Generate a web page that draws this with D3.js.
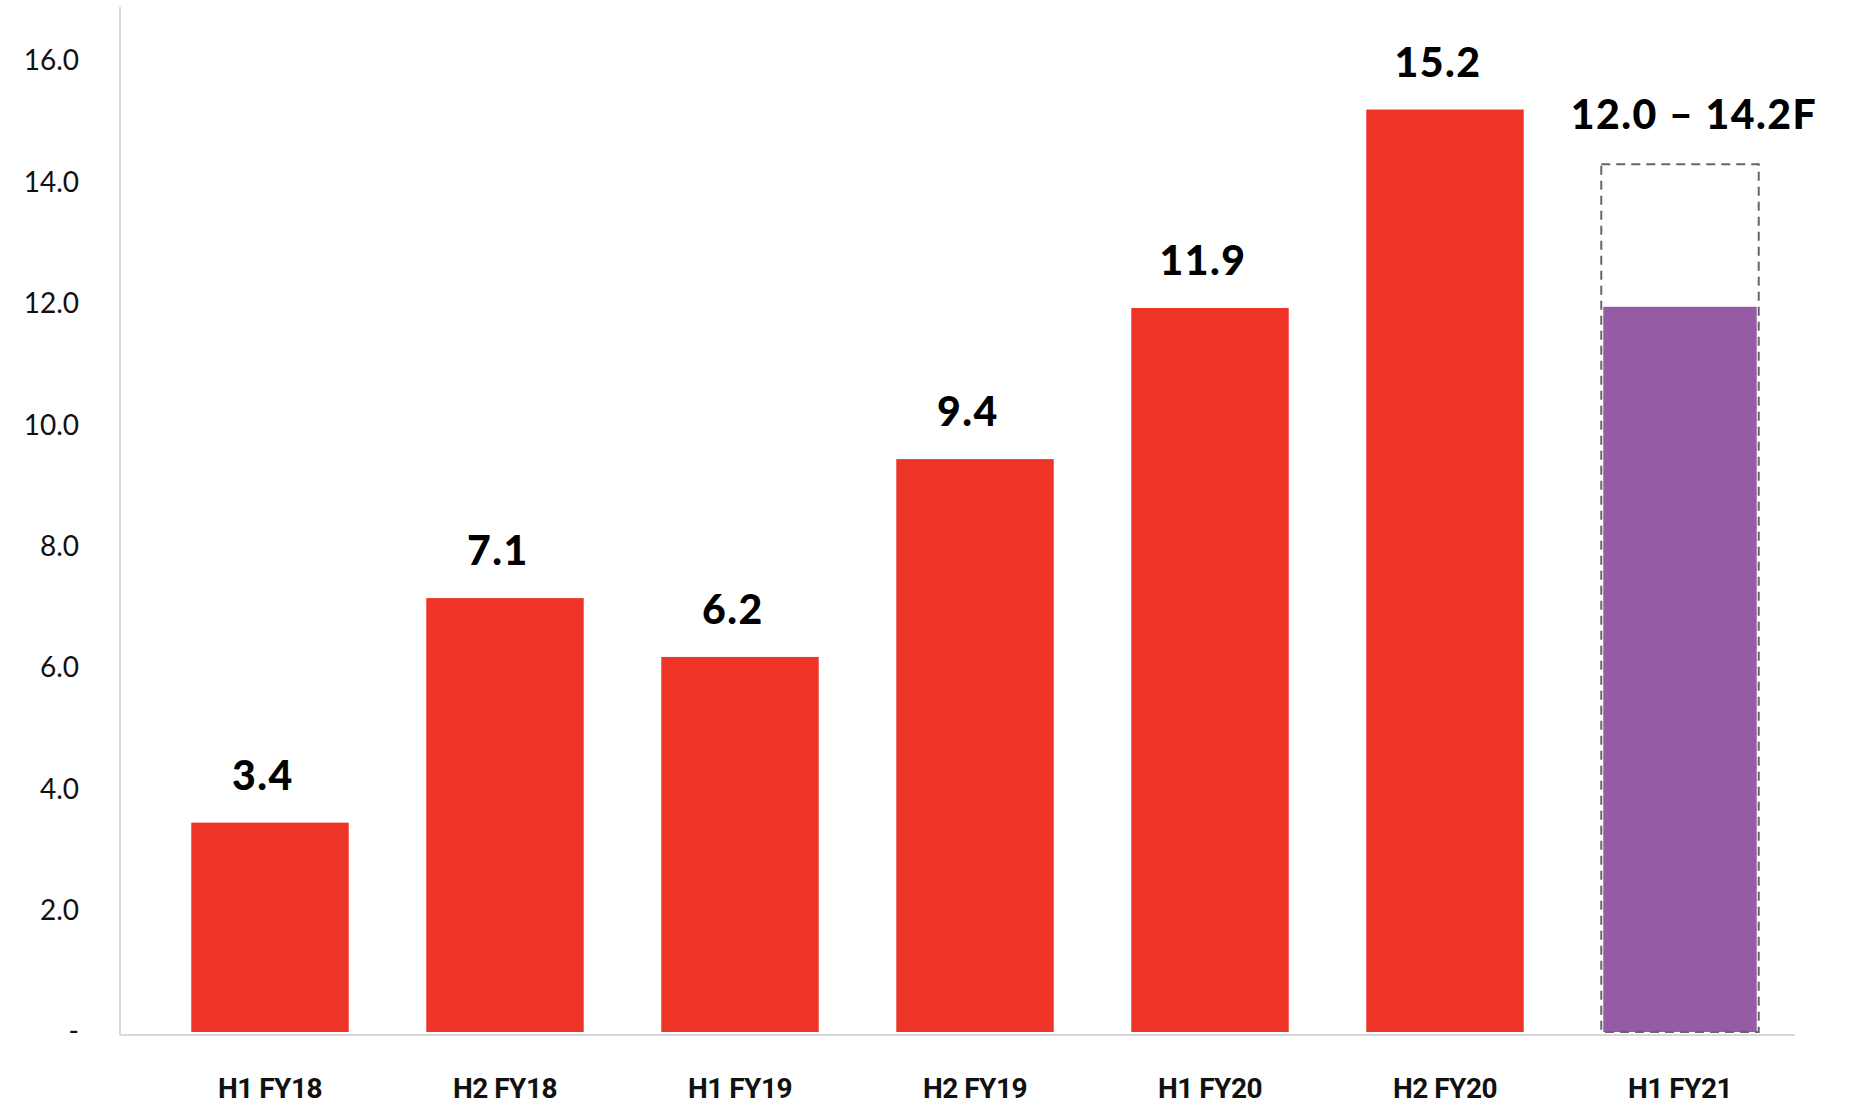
<!DOCTYPE html>
<html>
<head>
<meta charset="utf-8">
<script src="https://cdn.jsdelivr.net/npm/d3@7"></script>
<style>
  html, body { margin: 0; padding: 0; background: #ffffff; }
  svg { display: block; }
</style>
</head>
<body>
<svg id="chart" width="1872" height="1114"></svg>
<script>
// ---- data ----
const categories = ["H1 FY18", "H2 FY18", "H1 FY19", "H2 FY19", "H1 FY20", "H2 FY20", "H1 FY21"];
const actualValues = [3.45, 7.15, 6.18, 9.44, 11.93, 15.2, null];
const actualLabels = ["3.4", "7.1", "6.2", "9.4", "11.9", "15.2", null];
const forecastLow = [null, null, null, null, null, null, 11.95];
const forecastHigh = [null, null, null, null, null, null, 14.3];
const forecastLabels = [null, null, null, null, null, null, "12.0 \u2013 14.2F"];
const yTickValues = [0, 2, 4, 6, 8, 10, 12, 14, 16];

// ---- layout ----
const svg = d3.select("#chart");
const axisX = 120, axisRight = 1795, axisLineY = 1035, plotTop = 7;

const x = d3.scaleBand()
  .domain(categories)
  .range([152.5, 1797.5])
  .paddingInner(0.33)
  .paddingOuter(0.165);

const y = d3.scaleLinear().domain([0, 16]).range([1032, 61]);

const RED = "#EE3427", PURPLE = "#955BA5";

// axis lines
svg.append("line")
  .attr("x1", axisX).attr("x2", axisX)
  .attr("y1", plotTop).attr("y2", axisLineY)
  .attr("stroke", "#d9d9d9").attr("stroke-width", 2);
svg.append("line")
  .attr("x1", axisX).attr("x2", axisRight)
  .attr("y1", axisLineY).attr("y2", axisLineY)
  .attr("stroke", "#d9d9d9").attr("stroke-width", 2);

// y axis labels
const yAxis = d3.axisLeft(y)
  .tickValues(yTickValues)
  .tickSize(0)
  .tickPadding(41)
  .tickFormat(d => d === 0 ? "-" : d3.format(".1f")(d));
const gy = svg.append("g").attr("transform", `translate(${axisX},0)`).call(yAxis);
gy.select(".domain").remove();
gy.selectAll("text")
  .attr("font-family", "Lato, 'Open Sans', sans-serif")
  .attr("font-size", 28)
  .attr("font-weight", 400)
  .attr("fill", "#111");

// x axis labels
const xAxis = d3.axisBottom(x).tickSize(0).tickPadding(43);
const gx = svg.append("g").attr("transform", `translate(0,${axisLineY})`).call(xAxis);
gx.select(".domain").remove();
gx.selectAll("text")
  .attr("font-family", "Roboto, sans-serif")
  .attr("font-size", 28)
  .attr("font-weight", 700)
  .attr("letter-spacing", -0.5)
  .attr("fill", "#111");

// red bars
const actualData = categories.map((c, i) => ({ c, v: actualValues[i], label: actualLabels[i] }))
  .filter(d => d.v != null);
svg.append("g").selectAll("rect")
  .data(actualData)
  .join("rect")
  .attr("x", d => x(d.c))
  .attr("width", x.bandwidth())
  .attr("y", d => y(d.v))
  .attr("height", d => y(0) - y(d.v))
  .attr("fill", RED);

svg.append("g").selectAll("text")
  .data(actualData)
  .join("text")
  .attr("x", d => x(d.c) + x.bandwidth() / 2 - 7)
  .attr("y", d => y(d.v) - 33)
  .attr("text-anchor", "middle")
  .attr("font-family", "Lato, sans-serif")
  .attr("font-weight", 900)
  .attr("font-size", 41)
  .attr("letter-spacing", 1.5)
  .attr("fill", "#000")
  .text(d => d.label);

// forecast bar
const fcData = categories.map((c, i) => ({ c, lo: forecastLow[i], hi: forecastHigh[i], label: forecastLabels[i] }))
  .filter(d => d.lo != null);
const fg = svg.append("g");
fg.selectAll("rect.fill")
  .data(fcData)
  .join("rect")
  .attr("class", "fill")
  .attr("x", d => x(d.c) + 2)
  .attr("width", x.bandwidth() - 4)
  .attr("y", d => y(d.lo))
  .attr("height", d => y(0) - y(d.lo))
  .attr("fill", PURPLE);
fg.selectAll("rect.outline")
  .data(fcData)
  .join("rect")
  .attr("class", "outline")
  .attr("x", d => x(d.c))
  .attr("width", x.bandwidth())
  .attr("y", d => y(d.hi))
  .attr("height", d => y(0) - y(d.hi))
  .attr("fill", "none")
  .attr("stroke", "#666")
  .attr("stroke-width", 2)
  .attr("stroke-dasharray", "9,6");
fg.selectAll("text")
  .data(fcData)
  .join("text")
  .attr("x", d => x(d.c) + x.bandwidth() / 2 + 14)
  .attr("y", d => y(d.hi) - 35)
  .attr("text-anchor", "middle")
  .attr("font-family", "Lato, sans-serif")
  .attr("font-weight", 900)
  .attr("font-size", 41)
  .attr("letter-spacing", 1.5)
  .attr("fill", "#000")
  .text(d => d.label);
</script>
</body>
</html>
